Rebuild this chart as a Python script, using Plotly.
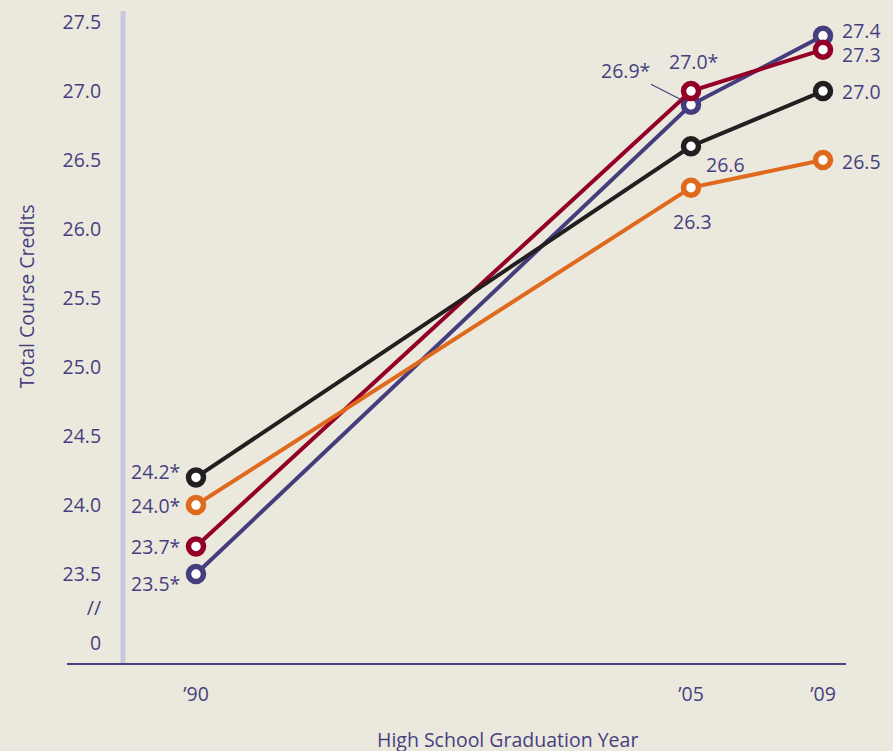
import plotly.graph_objects as go

# ---- data ----
years = [1990, 2005, 2009]
year_labels = ["\u201990", "\u201905", "\u201909"]

blue_vals = [23.5, 26.9, 27.4]
red_vals = [23.7, 27.0, 27.3]
orange_vals = [24.0, 26.3, 26.5]
black_vals = [24.2, 26.6, 27.0]

blue_star = [True, True, False]
red_star = [True, True, False]
orange_star = [True, False, False]
black_star = [True, False, False]

ytick_vals = [23.0, 23.25, 23.5, 24.0, 24.5, 25.0, 25.5, 26.0, 26.5, 27.0, 27.5]
ytick_text = ["0", "//", "23.5", "24.0", "24.5", "25.0", "25.5", "26.0", "26.5", "27.0", "27.5"]

x_title = "High School Graduation Year"
y_title = "Total Course Credits"

# ---- style ----
BG = "#ebe9de"
TXT = "#473f80"
FONT = "Open Sans"
FS = 19.5
COL_BLUE = "#443e7d"
COL_RED = "#930027"
COL_ORANGE = "#df6a1e"
COL_BLACK = "#231f20"

fig = go.Figure()

series = [
    ("blue", blue_vals, COL_BLUE),
    ("red", red_vals, COL_RED),
    ("orange", orange_vals, COL_ORANGE),
    ("black", black_vals, COL_BLACK),
]
for name, vals, col in series:
    fig.add_trace(go.Scatter(
        x=years, y=vals, mode="lines+markers", name=name,
        line=dict(color=col, width=4),
        marker=dict(symbol="circle", size=15, color="white",
                    line=dict(color=col, width=5.5)),
        cliponaxis=False, hoverinfo="skip", showlegend=False,
    ))

def lab(v, star):
    return f"{v:.1f}" + ("*" if star else "")

ann = []
font = dict(family=FONT, size=FS, color=TXT)
# 1990 labels (left of markers)
for vals, stars, ys in [(black_vals, black_star, 6), (orange_vals, orange_star, 0),
                        (red_vals, red_star, 0), (blue_vals, blue_star, -9)]:
    ann.append(dict(x=years[0], y=vals[0], text=lab(vals[0], stars[0]), showarrow=False,
                    xanchor="right", yanchor="middle", xshift=-14, yshift=ys, font=font))
# 2009 labels (right of markers)
for vals, stars, ys in [(blue_vals, blue_star, 5), (red_vals, red_star, -5),
                        (black_vals, black_star, 0), (orange_vals, orange_star, -1)]:
    ann.append(dict(x=years[2], y=vals[2], text=lab(vals[2], stars[2]), showarrow=False,
                    xanchor="left", yanchor="middle", xshift=17, yshift=ys, font=font))
# 2005 labels
ann.append(dict(x=years[1], y=red_vals[1], text=lab(red_vals[1], red_star[1]), showarrow=False,
                xanchor="center", yanchor="middle", xshift=2, yshift=30, font=font))
ann.append(dict(x=years[1], y=blue_vals[1], text=lab(blue_vals[1], blue_star[1]), showarrow=True,
                arrowhead=0, arrowwidth=1.2, arrowcolor=TXT, ax=-66, ay=-34, standoff=11,
                xanchor="center", yanchor="middle", font=font))
ann.append(dict(x=years[1], y=black_vals[1], text=lab(black_vals[1], black_star[1]), showarrow=False,
                xanchor="center", yanchor="middle", xshift=34, yshift=-18, font=font))
ann.append(dict(x=years[1], y=orange_vals[1], text=lab(orange_vals[1], orange_star[1]), showarrow=False,
                xanchor="center", yanchor="middle", xshift=1, yshift=-34, font=font))
# axis titles
ann.append(dict(xref="paper", yref="paper", x=0.541, y=0, yshift=-75, text=x_title,
                showarrow=False, xanchor="center", yanchor="middle", font=font))
ann.append(dict(xref="paper", yref="paper", x=-0.111, y=0.5636, text=y_title, textangle=-90,
                showarrow=False, xanchor="center", yanchor="middle", font=font))

shapes = [
    # light vertical bar (axis spine)
    dict(type="line", xref="paper", yref="paper", x0=0.019, x1=0.019, y0=0, y1=1,
         line=dict(color="#c9c8df", width=5), layer="below"),
    # baseline
    dict(type="line", xref="paper", yref="paper", x0=-0.057, x1=1, y0=0, y1=0,
         line=dict(color=TXT, width=2)),
]

fig.update_layout(
    width=893, height=751,
    margin=dict(l=109, r=47, t=11, b=87, autoexpand=False),
    paper_bgcolor=BG, plot_bgcolor=BG,
    font=dict(family=FONT, size=FS, color=TXT),
    annotations=ann, shapes=shapes,
    xaxis=dict(range=[1987.364, 2009.697], tickvals=years, ticktext=year_labels,
               showgrid=False, zeroline=False, showline=False, automargin=False,
               ticks="outside", ticklen=13, tickcolor="rgba(0,0,0,0)",
               tickfont=dict(family=FONT, size=FS, color=TXT)),
    yaxis=dict(range=[22.848, 27.58], tickvals=ytick_vals, ticktext=ytick_text,
               showgrid=False, zeroline=False, showline=False, automargin=False,
               ticks="outside", ticklen=3, tickcolor="rgba(0,0,0,0)",
               tickfont=dict(family=FONT, size=FS, color=TXT)),
)

fig.write_html("out.html", config={"displayModeBar": False},
               post_script="document.body.style.margin='0';document.body.style.background='%s';" % BG)
